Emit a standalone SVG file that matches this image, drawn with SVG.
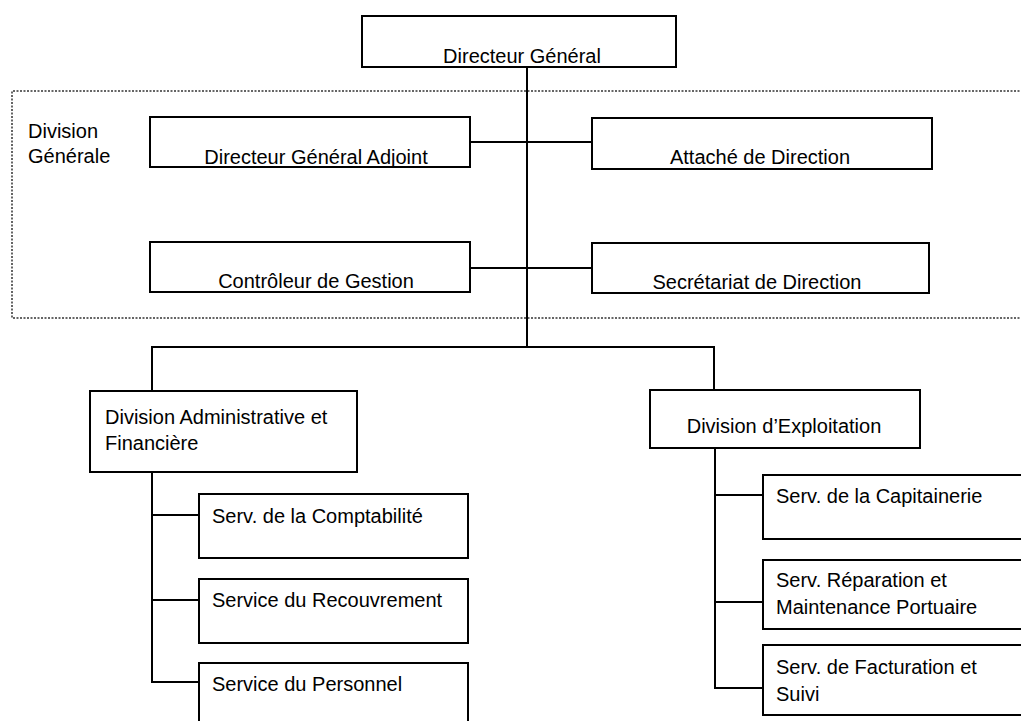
<svg xmlns="http://www.w3.org/2000/svg" width="1021" height="721" viewBox="0 0 1021 721">
<style>
.box{fill:#fff;stroke:#000;stroke-width:2}
.t{font-family:"Liberation Sans",Arial,sans-serif;font-size:20px;fill:#000}
.c{text-anchor:middle}
.ln{fill:none;stroke:#000;stroke-width:2}
.frame{fill:none;stroke:#333;stroke-width:1.5;stroke-dasharray:2 1.5}
</style>
<rect width="1021" height="721" fill="#fff"/>
<g id="division-generale-frame">
<path class="frame" d="M1023,91 H12 V318 H1023"/>
<text class="t" x="28" y="138">Division</text>
<text class="t" x="28" y="163">Générale</text>
</g>
<g id="connectors">
<path class="ln" d="M527,67 V347" stroke-width="3"/>
<path class="ln" d="M470,142 H592"/>
<path class="ln" d="M470,268 H592"/>
<path class="ln" d="M152,392 V347 H714 V390"/>
<path class="ln" d="M152,472 V682 H199 M152,515 H199 M152,600 H199"/>
<path class="ln" d="M715,448 V688 H763 M715,495 H763 M715,602 H763"/>
</g>
<g id="directeur-general">
<rect class="box" x="362" y="16" width="314" height="51"/>
<text class="t c" x="522" y="63">Directeur Général</text>
</g>
<g id="dga">
<rect class="box" x="150" y="117" width="320" height="50"/>
<text class="t c" x="316" y="164">Directeur Général Adjoint</text>
</g>
<g id="attache">
<rect class="box" x="592" y="118" width="340" height="51"/>
<text class="t c" x="760" y="164">Attaché de Direction</text>
</g>
<g id="controleur">
<rect class="box" x="150" y="242" width="320" height="50"/>
<text class="t c" x="316" y="288">Contrôleur de Gestion</text>
</g>
<g id="secretariat">
<rect class="box" x="592" y="243" width="337" height="50"/>
<text class="t c" x="757" y="289">Secrétariat de Direction</text>
</g>
<g id="daf">
<rect class="box" x="90" y="391" width="267" height="81"/>
<text class="t" x="105" y="424">Division Administrative et</text>
<text class="t" x="105" y="450">Financière</text>
</g>
<g id="comptabilite">
<rect class="box" x="199" y="494" width="269" height="64"/>
<text class="t" x="212" y="523">Serv. de la Comptabilité</text>
</g>
<g id="recouvrement">
<rect class="box" x="199" y="579" width="269" height="64"/>
<text class="t" x="212" y="607">Service du Recouvrement</text>
</g>
<g id="personnel">
<rect class="box" x="199" y="663" width="269" height="70"/>
<text class="t" x="212" y="691">Service du Personnel</text>
</g>
<g id="exploitation">
<rect class="box" x="650" y="390" width="270" height="58"/>
<text class="t c" x="784" y="433">Division d’Exploitation</text>
</g>
<g id="capitainerie">
<rect class="box" x="763" y="475" width="270" height="64"/>
<text class="t" x="776" y="503">Serv. de la Capitainerie</text>
</g>
<g id="reparation">
<rect class="box" x="763" y="560" width="270" height="69"/>
<text class="t" x="776" y="587">Serv. Réparation et</text>
<text class="t" x="776" y="614">Maintenance Portuaire</text>
</g>
<g id="facturation">
<rect class="box" x="763" y="645" width="270" height="70"/>
<text class="t" x="776" y="674">Serv. de Facturation et</text>
<text class="t" x="776" y="701">Suivi</text>
</g>
</svg>
